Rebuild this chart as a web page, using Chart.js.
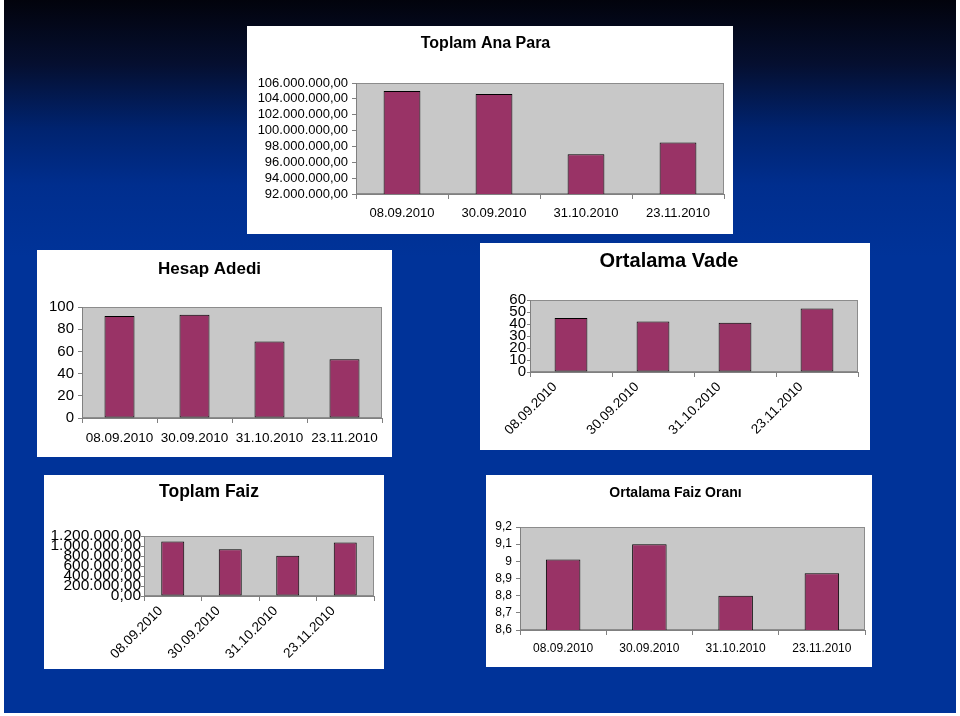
<!DOCTYPE html>
<html>
<head>
<meta charset="utf-8">
<script src="https://cdn.jsdelivr.net/npm/chart.js@4/dist/chart.umd.min.js"></script>
<style>
  body { margin: 0; width: 960px; height: 716px; background: #fff; position: relative; overflow: hidden; font-family: "Liberation Sans", Arial, sans-serif; }
  .bg { position: absolute; left: 4px; top: 0; width: 952px; height: 713px;
        background: linear-gradient(to bottom, #02030c 0%, #050f30 9%, #00236f 18%, #002e8e 26%, #003399 36%, #003399 100%); }
  .panel { position: absolute; background: #fff; }
  .panel canvas { display: block; }
</style>
</head>
<body>
<div class="bg"></div>
<div class="panel" style="left:247px;top:26px;"><canvas id="c1" width="486" height="208"></canvas></div>
<div class="panel" style="left:37px;top:250px;"><canvas id="c2" width="355" height="207"></canvas></div>
<div class="panel" style="left:480px;top:243px;"><canvas id="c3" width="390" height="207"></canvas></div>
<div class="panel" style="left:44px;top:475px;"><canvas id="c4" width="340" height="194"></canvas></div>
<div class="panel" style="left:486px;top:475px;"><canvas id="c5" width="386" height="192"></canvas></div>

<script>
// data
const dates = ["08.09.2010", "30.09.2010", "31.10.2010", "23.11.2010"];

const anaPara = [105000000, 104600000, 97000000, 98500000];
const hesapAdedi = [92, 93, 69, 53];
const ortalamaVade = [45, 42, 41, 53];
const toplamFaiz = [1090000, 935000, 805000, 1070000];
const faizOrani = [9.01, 9.10, 8.80, 8.93];

// y tick values
const anaParaTicks = [92000000, 94000000, 96000000, 98000000, 100000000, 102000000, 104000000, 106000000];
const hesapTicks = [0, 20, 40, 60, 80, 100];
const vadeTicks = [0, 10, 20, 30, 40, 50, 60];
const faizTicks = [0, 200000, 400000, 600000, 800000, 1000000, 1200000];
const oranTicks = [8.6, 8.7, 8.8, 8.9, 9.0, 9.1, 9.2];

const FONT = "'Liberation Sans', Arial, sans-serif";

function trMoney(v) {
    const parts = Math.round(v).toFixed(2).split(".");
    return parts[0].replace(/\B(?=(\d{3})+(?!\d))/g, ".") + "," + parts[1];
}
function trDec(v) {
    return String(Math.round(v * 10) / 10).replace(".", ",");
}

// grey plot area like excel
const plotBg = {
    id: "plotBg",
    beforeDraw(chart) {
        const a = chart.chartArea;
        const ctx = chart.ctx;
        ctx.save();
        ctx.fillStyle = "#c8c8c8";
        ctx.fillRect(a.left, a.top, a.right - a.left, a.bottom - a.top);
        ctx.strokeStyle = "#8c8c8c";
        ctx.lineWidth = 1;
        ctx.strokeRect(a.left + 0.5, a.top + 0.5, a.right - a.left - 1, a.bottom - a.top - 1);
        ctx.restore();
    }
};

// g: panel top/left, plot box and title centre in page coords
function makeChart(id, title, values, ticks, fmt, g) {
    const cv = document.getElementById(id);
    const w = cv.width, h = cv.height;
    const padTop = g.titleY - g.top - g.titleSize * 0.6;
    const padBottom = g.plotTop - g.top - padTop - g.titleSize * 1.2;
    const rot = g.rotate || 0;

    return new Chart(cv.getContext("2d"), {
        type: "bar",
        data: {
            labels: dates,
            datasets: [{
                data: values,
                backgroundColor: "#993366",
                borderColor: "#000000",
                borderWidth: 1,
                borderSkipped: false,
                barPercentage: 0.4,
                categoryPercentage: 1
            }]
        },
        options: {
            responsive: false,
            animation: false,
            layout: { padding: { left: 0, top: 0, right: g.left + w - g.plotRight, bottom: 0 } },
            plugins: {
                legend: { display: false },
                tooltip: { enabled: false },
                title: {
                    display: true,
                    text: title,
                    color: "#000",
                    font: { family: FONT, size: g.titleSize, weight: "bold" },
                    padding: { top: padTop, bottom: padBottom }
                }
            },
            scales: {
                x: {
                    afterFit(s) { s.height = g.top + h - g.plotBottom; },
                    border: { display: true, color: "#808080" },
                    grid: { display: true, drawOnChartArea: false, drawTicks: true, tickLength: 5, color: "#808080", offset: true },
                    ticks: {
                        color: "#000",
                        font: { family: FONT, size: g.xFont },
                        padding: g.xPad,
                        labelOffset: g.labelShift || 0,
                        minRotation: rot,
                        maxRotation: rot,
                        autoSkip: false
                    }
                },
                y: {
                    min: ticks[0],
                    max: ticks[ticks.length - 1],
                    afterFit(s) { s.width = g.plotLeft - g.left; },
                    border: { display: true, color: "#808080" },
                    grid: { display: true, drawOnChartArea: false, drawTicks: true, tickLength: g.yTick || 4, color: "#808080" },
                    ticks: {
                        count: ticks.length,
                        autoSkip: false,
                        color: "#000",
                        padding: g.yPad,
                        font: { family: FONT, size: g.yFont, lineHeight: 1 },
                        callback: (v) => fmt(v)
                    }
                }
            }
        },
        plugins: [plotBg]
    });
}

makeChart("c1", "Toplam Ana Para", anaPara, anaParaTicks, trMoney,
    { left: 247, top: 26, plotLeft: 356, plotRight: 724, plotTop: 83, plotBottom: 194, titleY: 44, titleSize: 16,
      xFont: 13, yFont: 13, xPad: 7, yPad: 4 });

makeChart("c2", "Hesap Adedi", hesapAdedi, hesapTicks, (v) => String(Math.round(v)),
    { left: 37, top: 250, plotLeft: 82, plotRight: 382, plotTop: 307, plotBottom: 418, titleY: 269, titleSize: 17,
      xFont: 13.5, yFont: 15, xPad: 7, yPad: 4 });

makeChart("c3", "Ortalama Vade", ortalamaVade, vadeTicks, (v) => String(Math.round(v)),
    { left: 480, top: 243, plotLeft: 530, plotRight: 858, plotTop: 300, plotBottom: 372, titleY: 261, titleSize: 20,
      xFont: 13.5, yFont: 15, xPad: 2, yPad: 1, yTick: 3, rotate: 45, labelShift: -16 });

makeChart("c4", "Toplam Faiz", toplamFaiz, faizTicks, trMoney,
    { left: 44, top: 475, plotLeft: 144, plotRight: 374, plotTop: 536, plotBottom: 596, titleY: 492, titleSize: 17.5,
      xFont: 13.5, yFont: 15.5, xPad: 2, yPad: 0, yTick: 3, rotate: 45, labelShift: -12 });

makeChart("c5", "Ortalama Faiz Oranı", faizOrani, oranTicks, trDec,
    { left: 486, top: 475, plotLeft: 520, plotRight: 865, plotTop: 527, plotBottom: 630, titleY: 493, titleSize: 14,
      xFont: 12, yFont: 12, xPad: 6, yPad: 4 });
</script>
</body>
</html>
